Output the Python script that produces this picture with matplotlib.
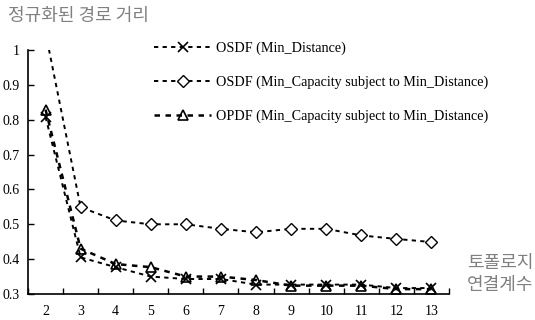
#!/usr/bin/env python

import numpy
import matplotlib
matplotlib.use("Agg")
import matplotlib.pyplot as plt

# topology connectivity degree
degree = [2, 3, 4, 5, 6, 7, 8, 9, 10, 11, 12, 13]

osdf_min_dist = [0.808, 0.405, 0.377, 0.350, 0.343, 0.343, 0.327, 0.327, 0.327, 0.327, 0.317, 0.317]
osdf_min_cap = [1.05, 0.549, 0.511, 0.500, 0.500, 0.487, 0.477, 0.487, 0.487, 0.468, 0.458, 0.449]
opdf_min_cap = [0.829, 0.430, 0.386, 0.377, 0.350, 0.350, 0.340, 0.324, 0.324, 0.324, 0.314, 0.314]

labels = ["OSDF (Min_Distance)",
          "OSDF (Min_Capacity subject to Min_Distance)",
          "OPDF (Min_Capacity subject to Min_Distance)"]

yticks = [0.3, 0.4, 0.5, 0.6, 0.7, 0.8, 0.9, 1.0]
ytick_labels = ["0.3", "0.4", "0.5", "0.6", "0.7", "0.8", "0.9", "1"]

if __name__ == "__main__":

    plt.rcParams['font.family'] = ['Liberation Serif', 'Noto Sans CJK KR']

    fig = plt.figure(figsize=(5.35, 3.2), dpi=100)
    axes = fig.add_axes([28 / 535, 1 - 294 / 320, 421 / 535, 244 / 320])

    x = numpy.arange(len(degree))
    dash = (0, (2.2, 2.2))
    axes.plot(x, osdf_min_dist, color='black', lw=1.4, linestyle=dash,
              marker='x', ms=7, mew=1.2, label=labels[0])
    axes.plot(x, osdf_min_cap, color='black', lw=1.4, linestyle=dash,
              marker='D', ms=6.5, mfc='white', mew=1.0, label=labels[1])
    axes.plot(x, opdf_min_cap, color='black', lw=1.8, linestyle=dash,
              marker='^', ms=7, mfc='none', mew=1.2, label=labels[2])

    axes.set_xlim(-0.5, len(degree) - 0.5)
    axes.set_ylim(0.3, 1.0)

    axes.set_xticks(x)
    axes.set_xticklabels([str(d) for d in degree], fontsize=10)
    axes.set_xticks(numpy.arange(-0.5, len(degree)), minor=True)
    axes.tick_params(axis='x', which='major', length=0, pad=8)
    axes.tick_params(axis='x', which='minor', direction='in', length=4, width=1)

    axes.set_yticks(yticks)
    axes.set_yticklabels(ytick_labels, fontsize=10)
    axes.tick_params(axis='y', direction='in', length=4, width=1, pad=6)

    for side in ['top', 'right']:
        axes.spines[side].set_visible(False)
    for side in ['left', 'bottom']:
        axes.spines[side].set_linewidth(1.2)

    leg = axes.legend(loc='upper left', bbox_to_anchor=(0.27, 1.088), frameon=False,
                      fontsize=10.2, handlelength=4.0, handletextpad=0.35,
                      labelspacing=1.45)

    fig.text(8 / 535, 1 - 16 / 320, "정규화된 경로 거리", fontsize=13, color='#808080',
             va='center', family=['Noto Sans CJK KR'])
    fig.text(467 / 535, 1 - 263 / 320, "토폴로지", fontsize=13, color='#808080',
             va='center', family=['Noto Sans CJK KR'])
    fig.text(467 / 535, 1 - 285 / 320, "연결계수", fontsize=13, color='#808080',
             va='center', family=['Noto Sans CJK KR'])

    fig.savefig("out.png", dpi=100)
